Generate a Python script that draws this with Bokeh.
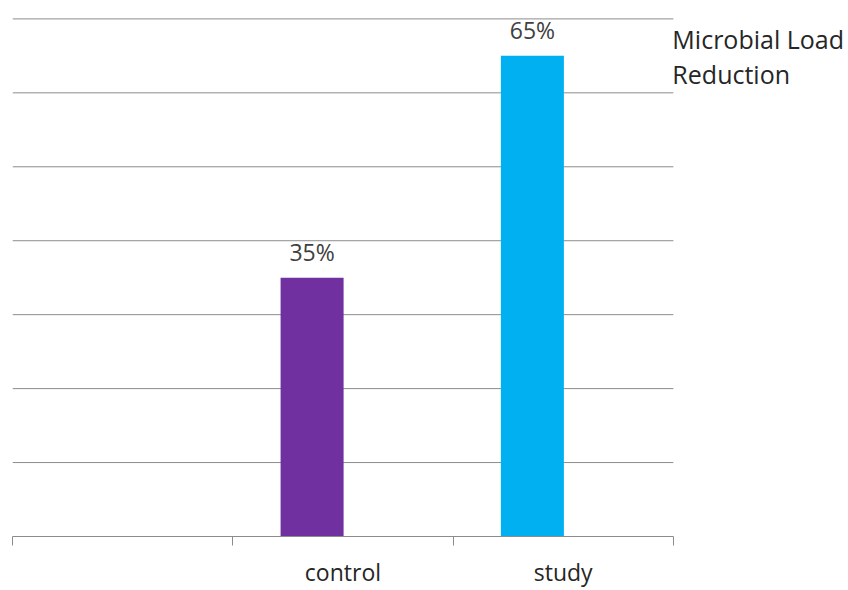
from bokeh.plotting import figure
from bokeh.models import (Range1d, LinearAxis, FixedTicker, ColumnDataSource, Label)
from bokeh.core.properties import value
from bokeh.embed import file_html
from bokeh.resources import INLINE

# ---- data ----
axis_categories = ["", "control", "study"]
bar_categories = ["control", "study"]
reduction_pct = [35, 65]
bar_colors = ["#7030A0", "#00B0F0"]
grid_values = [10, 20, 30, 40, 50, 60, 70]
legend_lines = ["Microbial Load", "Reduction"]

FONT = "Open Sans"
n = len(axis_categories)
centers = [i + 0.5 for i in range(n)]
edges = list(range(n + 1))
bar_x = [axis_categories.index(c) + 0.5 - 0.14 for c in bar_categories]
legend_room = 0.795  # extra x room (in category widths) for the legend text

p = figure(width=848, height=590, output_backend="svg", toolbar_location=None,
           x_range=Range1d(0, n + legend_room), y_range=Range1d(0, 71),
           x_axis_location=None, y_axis_location=None,
           min_border_left=12, min_border_right=0, min_border_top=11, min_border_bottom=54)
p.outline_line_color = None
p.background_fill_color = "white"
p.border_fill_color = "white"
p.xgrid.visible = False
p.ygrid.visible = False

# horizontal gridlines, spanning only the category area
p.segment(x0=0, x1=n, y0=grid_values, y1=grid_values, line_color="#8c8c8c", line_width=1)

# category axis: edge ticks as minor ticks, labels at category centres
ax = LinearAxis(ticker=FixedTicker(ticks=centers, minor_ticks=edges), bounds=(0, n),
                axis_line_color="#8c8c8c",
                major_tick_line_color=None, major_tick_in=0, major_tick_out=0,
                minor_tick_line_color="#8c8c8c", minor_tick_in=0, minor_tick_out=9,
                major_label_text_font=FONT, major_label_text_font_size="23px",
                major_label_text_color="#262626", major_label_standoff=10)
ax.major_label_overrides = {c: (lab if lab else " ") for c, lab in zip(centers, axis_categories)}
p.add_layout(ax, "below")

src = ColumnDataSource(dict(x=bar_x, val=reduction_pct, color=bar_colors,
                            lab=[f"{v}%" for v in reduction_pct]))
p.vbar(x="x", top="val", width=0.286, bottom=0,
       fill_color="color", line_color=None, source=src)
p.text(x="x", y="val", text="lab", source=src,
       text_align="center", text_baseline="alphabetic", y_offset=-26,
       text_font=value(FONT), text_font_size="23px", text_color="#404040")

# legend text (no swatch) beside the plot
for i, line in enumerate(legend_lines):
    p.add_layout(Label(x=n, y=70, x_offset=-1, y_offset=-20 - 35 * i, text=line,
                       text_baseline="alphabetic", text_align="left",
                       text_font=FONT, text_font_size="25px", text_color="#262626"))

open("out.html", "w").write(file_html(p, INLINE))
